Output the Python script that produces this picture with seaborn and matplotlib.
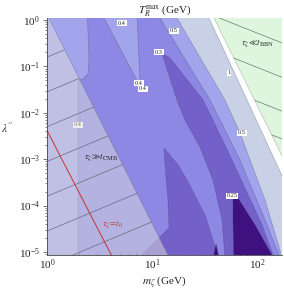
import matplotlib
matplotlib.use("Agg")
import matplotlib.pyplot as plt
import numpy as np
import pandas as pd
import seaborn as sns
from matplotlib.patches import Polygon
from matplotlib.ticker import LogLocator, NullFormatter

sns.set_theme(style="ticks")
plt.rcParams["font.family"] = ["Liberation Serif", "DejaVu Serif"]
plt.rcParams["mathtext.fontset"] = "stix"

# axis ranges (GeV, coupling)
x_range = [1.0, 173.0]
y_range = [10 ** -5.065, 10 ** 0.043]

# T_R^max regions, vertices as (log10 m, log10 lambda'')
reg_04_left = [(-0.05, 0.1), (0.385, 0.1), (0.40, -0.862), (0.39, -1.164), (0.343, -1.272),
               (0.295, -1.30), (0.295, -5.3), (-0.05, -5.3)]
reg_04_tongue = [(0.53, 0.1), (0.857, 0.1), (0.886, -1.38), (0.866, -1.34)]
reg_04_right = [(1.06, 0.1), (1.076, 0.043), (1.552, -1.724), (1.838, -3.017), (2.076, -4.31),
                (2.21, -5.065), (2.23, -5.3), (2.35, -5.3), (2.35, 0.1)]
reg_05_right = [(1.22, 0.1), (1.238, 0.043), (1.695, -1.724), (1.838, -2.435), (2.076, -3.879),
                (2.219, -4.957), (2.24, -5.3), (2.35, -5.3), (2.35, 0.1)]
reg_1_right = [(1.53, 0.1), (1.543, 0.043), (2.35, -3.9), (2.35, 0.1)]
reg_03_main = [(1.095, -0.711), (1.171, -0.819), (1.486, -1.724), (1.695, -2.694), (2.048, -4.418),
               (2.19, -5.3), (1.70, -5.3), (1.695, -5.13), (1.667, -4.31), (1.581, -3.448),
               (1.457, -2.737), (1.314, -2.155), (1.238, -1.724), (1.105, -0.797)]
reg_03_left = [(1.114, -2.759), (1.248, -3.125), (1.333, -3.448), (1.505, -4.203), (1.66, -5.3),
               (0.80, -5.3), (1.105, -4.612), (1.162, -4.483), (1.152, -3.879), (1.124, -3.125)]
reg_025 = [(1.771, -3.815), (1.819, -3.836), (1.981, -4.418), (2.143, -5.065), (2.17, -5.3),
           (1.781, -5.3), (1.771, -4.31)]
reg_025_spike = [(1.61, -4.828), (1.655, -5.3), (1.565, -5.3)]

region_colors = {"0.4-0.5": "#a3a5ec", "0.5-1": "#c8d1e6", ">1": "#ffffff",
                 "0.3-0.4": "#8c88e3", "0.25-0.3": "#7360c8", "<0.25": "#3e1080"}

# contour labels: text, log10 m, log10 lambda''
clabel_text = ["0.4", "0.5", "0.3", "1", "0.4", "0.4", "0.5", "0.25"]
clabel_lx = [0.714, 1.21, 1.067, 1.733, 0.876, 0.914, 1.857, 1.762]
clabel_ly = [-0.065, -0.237, -0.69, -1.142, -1.358, -1.487, -2.435, -3.793]
hidden_label = ("0.4", 0.295, -2.263)

# lifetime lines (log10 m, log10 lambda'')
tcmb_lx = [-0.05, 1.20]
tcmb_ly = [0.345, -5.28]
tbbn_lx = [1.578, 2.35]
tbbn_ly = [0.10, -3.44]
t0_m = [1.0, 4.4]
t0_lam = [4.17e-3, 6.3e-6]

# hatching offsets inside the lifetime regions
cmb_hatch_slope = 0.95
cmb_hatch_b = [-0.8, -1.55, -2.3, -3.05, -3.8, -4.55, -5.3]
bbn_hatch_slope = -0.9
bbn_hatch_c = [1.52, 0.78, 0.05, -0.55]


def to_lin(verts):
    v = np.array(verts)
    return 10 ** v


fig = plt.figure(figsize=(2.84, 2.91), dpi=100)
ax = fig.add_axes([47 / 284, 1 - 255 / 291, 235 / 284, 237 / 291])
ax.set_xscale("log")
ax.set_yscale("log")
ax.set_xlim(x_range)
ax.set_ylim(y_range)
ax.set_facecolor(region_colors["0.3-0.4"])

edge = (0.25, 0.25, 0.35, 0.35)
layers = [(reg_04_left, "0.4-0.5"), (reg_04_tongue, "0.4-0.5"), (reg_04_right, "0.4-0.5"),
          (reg_05_right, "0.5-1"), (reg_1_right, ">1"), (reg_03_main, "0.25-0.3"),
          (reg_03_left, "0.25-0.3"), (reg_025, "<0.25"), (reg_025_spike, "<0.25")]
for verts, key in layers:
    ax.add_patch(Polygon(to_lin(verts), closed=True, fc=region_colors[key], ec=edge, lw=0.5, zorder=1))

for t, lx, ly in zip(clabel_text, clabel_lx, clabel_ly):
    ax.text(10 ** lx, 10 ** ly, t, fontsize=4.5, ha="center", va="center", zorder=3,
            bbox=dict(boxstyle="square,pad=0.1", fc="white", ec="none"))
ax.text(10 ** hidden_label[1], 10 ** hidden_label[2], hidden_label[0], fontsize=4.5, ha="center",
        va="center", zorder=3, bbox=dict(boxstyle="square,pad=0.1", fc="white", ec="none"))

# tau >> t_CMB overlay
cmb_poly = Polygon(to_lin([(tcmb_lx[0], tcmb_ly[0]), (tcmb_lx[1], tcmb_ly[1]), (-0.05, -5.3)]),
                   closed=True, fc=(220 / 255, 220 / 255, 222 / 255), alpha=0.51, ec="none", zorder=4)
ax.add_patch(cmb_poly)
ax.plot(10 ** np.array(tcmb_lx), 10 ** np.array(tcmb_ly), color=(0.4, 0.4, 0.5, 0.5), lw=0.5, zorder=4)
cmb_clip = Polygon(to_lin([(tcmb_lx[0], tcmb_ly[0]), (tcmb_lx[1], tcmb_ly[1]), (-0.05, -5.3)]),
                   closed=True, transform=ax.transData)
hx = np.linspace(-0.05, 1.3, 20)
for b in cmb_hatch_b:
    ln, = ax.plot(10 ** hx, 10 ** (cmb_hatch_slope * hx + b), color="#6a6a80", lw=0.5, zorder=5)
    ln.set_clip_path(cmb_clip)

# tau << t_BBN region
bbn_verts = to_lin([(tbbn_lx[0], tbbn_ly[0]), (tbbn_lx[1], tbbn_ly[1]), (2.35, 0.1)])
ax.add_patch(Polygon(bbn_verts, closed=True, fc="#ddf6dd", ec=(0.5, 0.55, 0.5, 0.5), lw=0.5, zorder=4))
bbn_clip = Polygon(bbn_verts, closed=True, transform=ax.transData)
gx = np.linspace(1.5, 2.4, 20)
for c in bbn_hatch_c:
    ln, = ax.plot(10 ** gx, 10 ** (bbn_hatch_slope * gx + c), color="#6a7a6a", lw=0.5, zorder=5)
    ln.set_clip_path(bbn_clip)

# tau = t_0
t0 = pd.DataFrame({"m": t0_m, "lam": t0_lam})
sns.lineplot(data=t0, x="m", y="lam", ax=ax, color="#c83232", lw=0.7, zorder=6)

ax.text(10 ** 0.514, 10 ** -2.95, r"$\tau_\zeta\!\gg\! t_{\rm CMB}$", fontsize=6.5, ha="center",
        va="center", zorder=6)
ax.text(10 ** 2.01, 10 ** -0.5, r"$\tau_\zeta\!\ll\! t_{\rm BBN}$", fontsize=6.5, ha="center",
        va="center", zorder=6)
ax.text(10 ** 0.62, 10 ** -4.4, r"$\tau_\zeta\!=\!t_0$", fontsize=6.5, ha="center", va="center",
        color="#c83232", zorder=6)

ax.set_title(r"$T_R^{\rm max}$ (GeV)", fontsize=8, pad=2)
ax.set_xlabel(r"$m_\zeta$ (GeV)", fontsize=8, labelpad=1)
ax.set_ylabel(r"$\lambda''$", fontsize=8, rotation=0, labelpad=8)

ax.xaxis.set_major_locator(LogLocator(base=10, numticks=10))
ax.xaxis.set_minor_locator(LogLocator(base=10, subs=np.arange(2, 10), numticks=20))
ax.yaxis.set_major_locator(LogLocator(base=10, numticks=10))
ax.yaxis.set_minor_locator(LogLocator(base=10, subs=np.arange(2, 10), numticks=20))
ax.xaxis.set_minor_formatter(NullFormatter())
ax.yaxis.set_minor_formatter(NullFormatter())
ax.tick_params(axis="both", labelsize=8, width=0.5, color="#444444", pad=2)
ax.tick_params(axis="x", which="major", direction="in", length=3)
ax.tick_params(axis="x", which="minor", direction="in", length=1.5, width=0.4)
ax.tick_params(axis="y", which="major", direction="out", length=3)
ax.tick_params(axis="y", which="minor", direction="out", length=1.5, width=0.4)
for s in ["top", "right"]:
    ax.spines[s].set_visible(False)
for s in ["left", "bottom"]:
    ax.spines[s].set_linewidth(0.6)
    ax.spines[s].set_color("#444444")
    ax.spines[s].set_zorder(7)

fig.savefig("out.png", dpi=100)
